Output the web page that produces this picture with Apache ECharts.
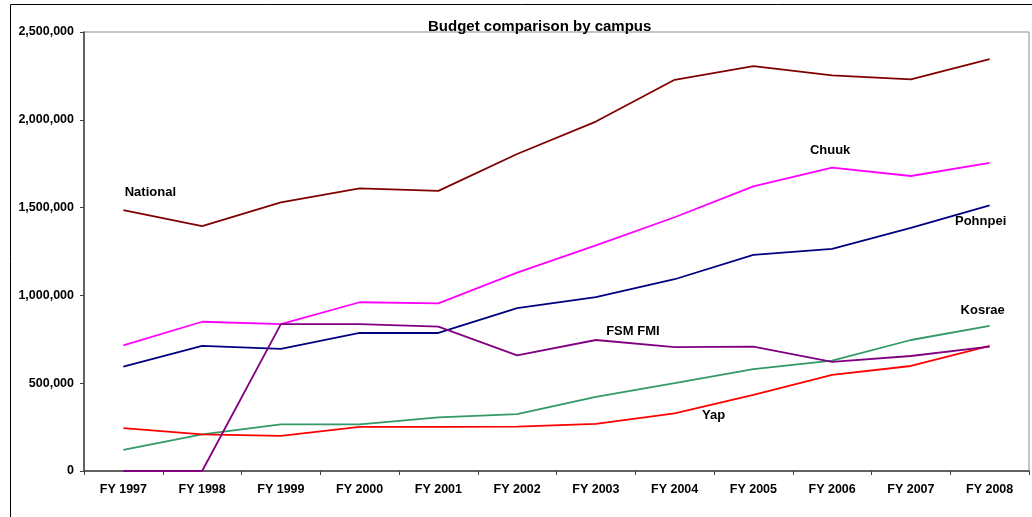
<!DOCTYPE html>
<html>
<head>
<meta charset="utf-8">
<script src="https://cdn.jsdelivr.net/npm/echarts@6/dist/echarts.min.js"></script>
<style>
html,body{margin:0;padding:0;background:#fff;}
#chart{width:1032px;height:517px;}
</style>
</head>
<body>
<div id="chart"></div>
<script>
const categories = ['FY 1997','FY 1998','FY 1999','FY 2000','FY 2001','FY 2002','FY 2003','FY 2004','FY 2005','FY 2006','FY 2007','FY 2008'];
const national = [1486000,1395000,1530000,1610000,1595000,1805000,1990000,2228000,2306000,2253000,2230000,2346000];
const chuuk    = [716000,850000,836000,961000,955000,1130000,1285000,1445000,1621000,1728000,1680000,1755000];
const pohnpei  = [594000,713000,695000,786000,786000,927000,990000,1092000,1231000,1265000,1384000,1513000];
const fsmFmi   = [0,0,836000,836000,822000,659000,746000,706000,708000,622000,655000,708000];
const kosrae   = [120000,208000,265000,265000,305000,324000,422000,500000,580000,628000,746000,826000];
const yap      = [244000,209000,200000,251000,251000,253000,268000,328000,434000,548000,598000,712000];
const yTicks = { min: 0, max: 2500000, interval: 500000 };

const FONT = '"Liberation Sans", Arial, sans-serif';

function withLabel(values, idx, text, offset) {
  return values.map((v, i) => i === idx ? {
    value: v,
    label: { show: true, formatter: text, position: 'inside', offset: offset,
             color: '#000', fontWeight: 'bold', fontSize: 13, fontFamily: FONT }
  } : v);
}

function mkSeries(name, data, color) {
  return {
    name: name, type: 'line', data: data,
    symbol: 'circle', symbolSize: 0.01, showSymbol: true,
    lineStyle: { color: color, width: 1.8 },
    itemStyle: { color: color },
    animation: false, silent: true
  };
}

const chart = echarts.init(document.getElementById('chart'));
chart.setOption({
  backgroundColor: '#fff',
  animation: false,
  title: {
    text: 'Budget comparison by campus',
    left: 423, top: 14,
    textStyle: { fontFamily: FONT, fontSize: 15, fontWeight: 'bold', color: '#000' }
  },
  graphic: [{
    type: 'rect', silent: true,
    shape: { x: 10.5, y: 4.5, width: 1100, height: 600 },
    style: { fill: 'none', stroke: '#000', lineWidth: 1 }
  }],
  grid: { left: 84, top: 32, right: 3, bottom: 46, show: true, borderColor: '#8c8c8c', borderWidth: 1, containLabel: false },
  xAxis: {
    type: 'category', data: categories, boundaryGap: true,
    axisLine: { lineStyle: { color: '#404040', width: 1.5 } },
    axisTick: { show: true, length: 4, interval: 0, alignWithLabel: false, lineStyle: { color: '#404040' } },
    axisLabel: { color: '#000', fontFamily: FONT, fontSize: 12.5, fontWeight: 'bold', margin: 12, interval: 0 },
    splitLine: { show: false }
  },
  yAxis: {
    type: 'value', min: yTicks.min, max: yTicks.max, interval: yTicks.interval,
    axisLine: { show: true, lineStyle: { color: '#404040', width: 1.5 } },
    axisTick: { show: true, length: 4, lineStyle: { color: '#404040' } },
    axisLabel: { color: '#000', fontFamily: FONT, fontSize: 12.5, fontWeight: 'bold', margin: 10,
                 formatter: v => v.toLocaleString('en-US') },
    splitLine: { show: false }
  },
  series: [
    mkSeries('Kosrae', withLabel(kosrae, 11, 'Kosrae', [-7, -16]), '#339966'),
    mkSeries('Yap', withLabel(yap, 7, 'Yap', [39, 2]), '#ff0000'),
    mkSeries('Pohnpei', withLabel(pohnpei, 11, 'Pohnpei', [-9, 16]), '#000080'),
    mkSeries('Chuuk', withLabel(chuuk, 9, 'Chuuk', [-2, -17]), '#ff00ff'),
    mkSeries('FSM FMI', withLabel(fsmFmi, 6, 'FSM FMI', [37, -9]), '#800080'),
    mkSeries('National', withLabel(national, 0, 'National', [27, -18]), '#800000')
  ]
});
</script>
</body>
</html>
